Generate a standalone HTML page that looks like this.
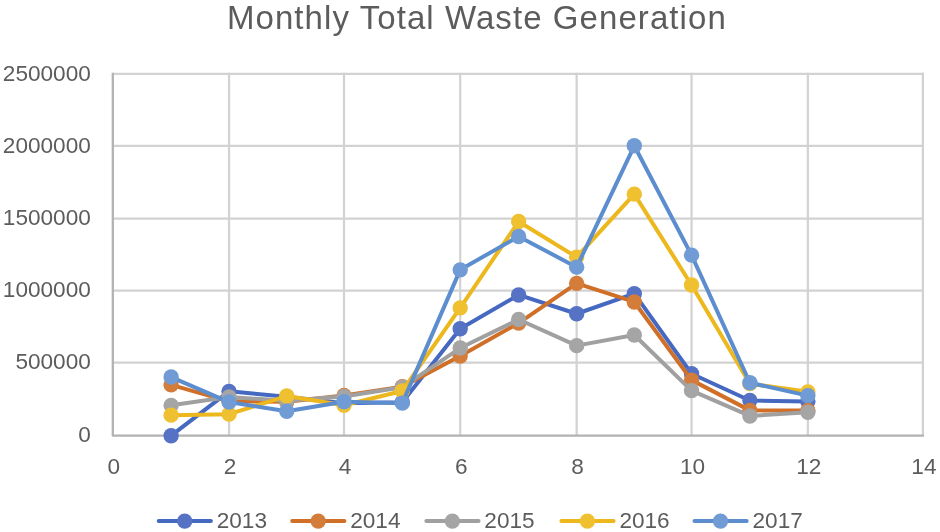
<!DOCTYPE html>
<html lang="en"><head><meta charset="utf-8"><title>Monthly Total Waste Generation</title>
<style>
html,body{margin:0;padding:0;background:#fff;}
body{width:940px;height:532px;overflow:hidden;}
svg{display:block;filter:blur(0.55px);}
text{font-family:"Liberation Sans",Arial,sans-serif;fill:#5c5c5c;}
.lbl{font-size:22.6px;}
.title{font-size:33.0px;letter-spacing:1.07px;}
</style></head><body>
<svg width="940" height="532" viewBox="0 0 940 532">
<rect x="0" y="0" width="940" height="532" fill="#ffffff"/>
<g stroke="#d2d2d2" stroke-width="2.2" fill="none">
<line x1="112.8" y1="73.85" x2="923.9" y2="73.85"/>
<line x1="112.8" y1="145.85" x2="923.9" y2="145.85"/>
<line x1="112.8" y1="218.7" x2="923.9" y2="218.7"/>
<line x1="112.8" y1="290.7" x2="923.9" y2="290.7"/>
<line x1="112.8" y1="362.6" x2="923.9" y2="362.6"/>
<line x1="229.05" y1="72.85" x2="229.05" y2="435.7"/>
<line x1="344" y1="72.85" x2="344" y2="435.7"/>
<line x1="460.2" y1="72.85" x2="460.2" y2="435.7"/>
<line x1="576.65" y1="72.85" x2="576.65" y2="435.7"/>
<line x1="691.55" y1="72.85" x2="691.55" y2="435.7"/>
<line x1="807.85" y1="72.85" x2="807.85" y2="435.7"/>
<line x1="922.9" y1="72.85" x2="922.9" y2="435.7"/>
</g>
<g stroke="#b2b2b2" stroke-width="2.3" fill="none">
<polyline points="112.8,72.85 112.8,435.7 923.9,435.7" stroke-linejoin="round"/>
</g>
<text class="title" x="476.9" y="29.4" text-anchor="middle">Monthly Total Waste Generation</text>
<g class="lbl" text-anchor="end">
<text x="90.8" y="80.55">2500000</text>
<text x="90.8" y="152.55">2000000</text>
<text x="90.8" y="225.4">1500000</text>
<text x="90.8" y="297.4">1000000</text>
<text x="90.8" y="369.3">500000</text>
<text x="90.8" y="442.4">0</text>
</g>
<g class="lbl" text-anchor="middle">
<text x="113.8" y="474.3">0</text>
<text x="230.05" y="474.3">2</text>
<text x="345" y="474.3">4</text>
<text x="461.2" y="474.3">6</text>
<text x="577.65" y="474.3">8</text>
<text x="692.55" y="474.3">10</text>
<text x="808.85" y="474.3">12</text>
<text x="923.9" y="474.3">14</text>
</g>
<g stroke="#4568c1" fill="#5572c5">
<polyline points="171.12,435.7 229.05,391.35 286.72,396.85 344,403.35 402.3,402.15 460.2,328.75 518.62,294.95 576.65,313.75 634.3,293.65 691.55,373.75 749.9,400.45 807.85,401.55" fill="none" stroke-width="4.0" stroke-linejoin="round" stroke-linecap="round"/>
<circle cx="171.12" cy="435.7" r="7.7" stroke="none"/>
<circle cx="229.05" cy="391.35" r="7.7" stroke="none"/>
<circle cx="286.72" cy="396.85" r="7.7" stroke="none"/>
<circle cx="344" cy="403.35" r="7.7" stroke="none"/>
<circle cx="402.3" cy="402.15" r="7.7" stroke="none"/>
<circle cx="460.2" cy="328.75" r="7.7" stroke="none"/>
<circle cx="518.62" cy="294.95" r="7.7" stroke="none"/>
<circle cx="576.65" cy="313.75" r="7.7" stroke="none"/>
<circle cx="634.3" cy="293.65" r="7.7" stroke="none"/>
<circle cx="691.55" cy="373.75" r="7.7" stroke="none"/>
<circle cx="749.9" cy="400.45" r="7.7" stroke="none"/>
<circle cx="807.85" cy="401.55" r="7.7" stroke="none"/>
</g>
<g stroke="#d07028" fill="#d47c39">
<polyline points="171.12,384.85 229.05,401.35 286.72,401.85 344,395.45 402.3,386.75 460.2,356.05 518.62,323.05 576.65,283.35 634.3,301.95 691.55,380.15 749.9,410.35 807.85,410.55" fill="none" stroke-width="4.0" stroke-linejoin="round" stroke-linecap="round"/>
<circle cx="171.12" cy="384.85" r="7.7" stroke="none"/>
<circle cx="229.05" cy="401.35" r="7.7" stroke="none"/>
<circle cx="286.72" cy="401.85" r="7.7" stroke="none"/>
<circle cx="344" cy="395.45" r="7.7" stroke="none"/>
<circle cx="402.3" cy="386.75" r="7.7" stroke="none"/>
<circle cx="460.2" cy="356.05" r="7.7" stroke="none"/>
<circle cx="518.62" cy="323.05" r="7.7" stroke="none"/>
<circle cx="576.65" cy="283.35" r="7.7" stroke="none"/>
<circle cx="634.3" cy="301.95" r="7.7" stroke="none"/>
<circle cx="691.55" cy="380.15" r="7.7" stroke="none"/>
<circle cx="749.9" cy="410.35" r="7.7" stroke="none"/>
<circle cx="807.85" cy="410.55" r="7.7" stroke="none"/>
</g>
<g stroke="#a0a0a0" fill="#a5a5a5">
<polyline points="171.12,405.35 229.05,397.05 286.72,400.85 344,396.45 402.3,387.15 460.2,348.05 518.62,319.55 576.65,345.65 634.3,335.05 691.55,390.65 749.9,415.95 807.85,412.25" fill="none" stroke-width="4.0" stroke-linejoin="round" stroke-linecap="round"/>
<circle cx="171.12" cy="405.35" r="7.7" stroke="none"/>
<circle cx="229.05" cy="397.05" r="7.7" stroke="none"/>
<circle cx="286.72" cy="400.85" r="7.7" stroke="none"/>
<circle cx="344" cy="396.45" r="7.7" stroke="none"/>
<circle cx="402.3" cy="387.15" r="7.7" stroke="none"/>
<circle cx="460.2" cy="348.05" r="7.7" stroke="none"/>
<circle cx="518.62" cy="319.55" r="7.7" stroke="none"/>
<circle cx="576.65" cy="345.65" r="7.7" stroke="none"/>
<circle cx="634.3" cy="335.05" r="7.7" stroke="none"/>
<circle cx="691.55" cy="390.65" r="7.7" stroke="none"/>
<circle cx="749.9" cy="415.95" r="7.7" stroke="none"/>
<circle cx="807.85" cy="412.25" r="7.7" stroke="none"/>
</g>
<g stroke="#ecb81e" fill="#efc030">
<polyline points="171.12,415.15 229.05,414.15 286.72,396.05 344,405.25 402.3,390.95 460.2,307.85 518.62,221.55 576.65,257.15 634.3,194.15 691.55,284.95 749.9,383.65 807.85,391.85" fill="none" stroke-width="4.0" stroke-linejoin="round" stroke-linecap="round"/>
<circle cx="171.12" cy="415.15" r="7.7" stroke="none"/>
<circle cx="229.05" cy="414.15" r="7.7" stroke="none"/>
<circle cx="286.72" cy="396.05" r="7.7" stroke="none"/>
<circle cx="344" cy="405.25" r="7.7" stroke="none"/>
<circle cx="402.3" cy="390.95" r="7.7" stroke="none"/>
<circle cx="460.2" cy="307.85" r="7.7" stroke="none"/>
<circle cx="518.62" cy="221.55" r="7.7" stroke="none"/>
<circle cx="576.65" cy="257.15" r="7.7" stroke="none"/>
<circle cx="634.3" cy="194.15" r="7.7" stroke="none"/>
<circle cx="691.55" cy="284.95" r="7.7" stroke="none"/>
<circle cx="749.9" cy="383.65" r="7.7" stroke="none"/>
<circle cx="807.85" cy="391.85" r="7.7" stroke="none"/>
</g>
<g stroke="#5c8dce" fill="#709bd4">
<polyline points="171.12,377.05 229.05,402.05 286.72,411.25 344,401.75 402.3,403.15 460.2,269.85 518.62,236.45 576.65,267.15 634.3,145.8 691.55,255.15 749.9,382.75 807.85,395.65" fill="none" stroke-width="4.0" stroke-linejoin="round" stroke-linecap="round"/>
<circle cx="171.12" cy="377.05" r="7.7" stroke="none"/>
<circle cx="229.05" cy="402.05" r="7.7" stroke="none"/>
<circle cx="286.72" cy="411.25" r="7.7" stroke="none"/>
<circle cx="344" cy="401.75" r="7.7" stroke="none"/>
<circle cx="402.3" cy="403.15" r="7.7" stroke="none"/>
<circle cx="460.2" cy="269.85" r="7.7" stroke="none"/>
<circle cx="518.62" cy="236.45" r="7.7" stroke="none"/>
<circle cx="576.65" cy="267.15" r="7.7" stroke="none"/>
<circle cx="634.3" cy="145.8" r="7.7" stroke="none"/>
<circle cx="691.55" cy="255.15" r="7.7" stroke="none"/>
<circle cx="749.9" cy="382.75" r="7.7" stroke="none"/>
<circle cx="807.85" cy="395.65" r="7.7" stroke="none"/>
</g>
<g stroke="#4568c1" fill="#5572c5">
<line x1="158.7" y1="521.1" x2="210.9" y2="521.1" stroke-width="4.0" stroke-linecap="round"/>
<circle cx="184.7" cy="521.1" r="7.7" stroke="none"/>
</g>
<text class="lbl" x="216.7" y="528.3">2013</text>
<g stroke="#d07028" fill="#d47c39">
<line x1="292.2" y1="521.1" x2="344.4" y2="521.1" stroke-width="4.0" stroke-linecap="round"/>
<circle cx="318.2" cy="521.1" r="7.7" stroke="none"/>
</g>
<text class="lbl" x="350.2" y="528.3">2014</text>
<g stroke="#a0a0a0" fill="#a5a5a5">
<line x1="426.35" y1="521.1" x2="478.55" y2="521.1" stroke-width="4.0" stroke-linecap="round"/>
<circle cx="452.35" cy="521.1" r="7.7" stroke="none"/>
</g>
<text class="lbl" x="484.35" y="528.3">2015</text>
<g stroke="#ecb81e" fill="#efc030">
<line x1="561.4" y1="521.1" x2="613.6" y2="521.1" stroke-width="4.0" stroke-linecap="round"/>
<circle cx="587.4" cy="521.1" r="7.7" stroke="none"/>
</g>
<text class="lbl" x="619.4" y="528.3">2016</text>
<g stroke="#5c8dce" fill="#709bd4">
<line x1="694.5" y1="521.1" x2="746.7" y2="521.1" stroke-width="4.0" stroke-linecap="round"/>
<circle cx="720.5" cy="521.1" r="7.7" stroke="none"/>
</g>
<text class="lbl" x="752.5" y="528.3">2017</text>
</svg>
</body></html>
